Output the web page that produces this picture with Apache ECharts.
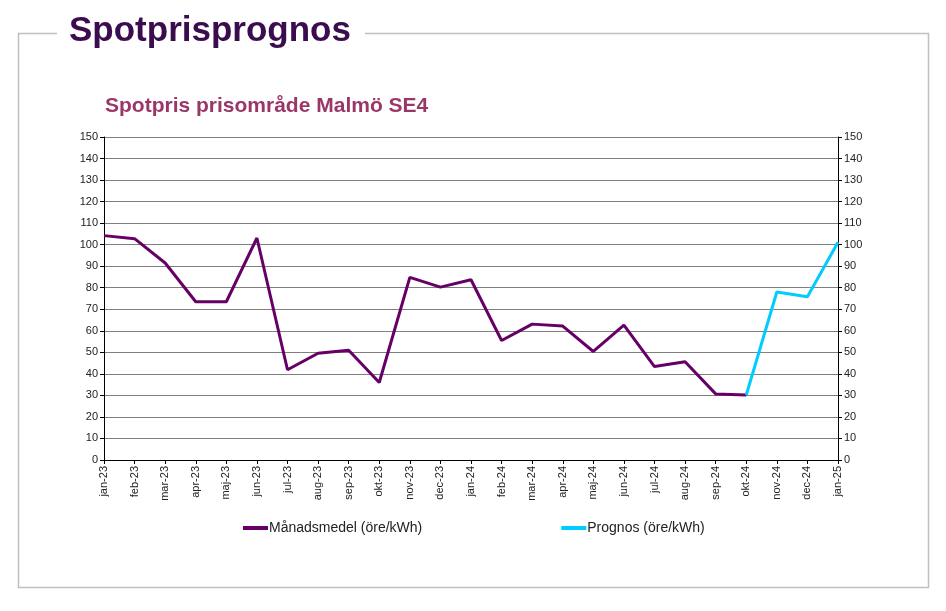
<!DOCTYPE html>
<html><head><meta charset="utf-8">
<script src="https://cdn.jsdelivr.net/npm/echarts@6/dist/echarts.min.js"></script>
<style>html,body{margin:0;padding:0;background:#fff}#c{width:946px;height:611px}</style>
</head><body><div id="c"></div>
<script>
const categories = ['jan-23','feb-23','mar-23','apr-23','maj-23','jun-23','jul-23','aug-23','sep-23','okt-23','nov-23','dec-23','jan-24','feb-24','mar-24','apr-24','maj-24','jun-24','jul-24','aug-24','sep-24','okt-24','nov-24','dec-24','jan-25'];
const manadsmedel = [104.2,102.8,91.5,73.5,73.5,103.1,41.9,49.6,51.0,36.0,84.8,80.3,83.7,55.5,63.1,62.2,50.4,62.6,43.4,45.6,30.7,30.2,null,null,null];
const prognos = [null,null,null,null,null,null,null,null,null,null,null,null,null,null,null,null,null,null,null,null,null,30.2,78.0,75.8,101.1];
const yTicks = {min:0, max:150, interval:10};

const chart = echarts.init(document.getElementById('c'), null, {renderer:'canvas'});
const yAxisCommon = {
  type:'value', min:yTicks.min, max:yTicks.max, interval:yTicks.interval,
  axisLine:{show:true, lineStyle:{color:'#000', width:1}},
  axisTick:{show:true, length:4, lineStyle:{color:'#000'}},
  axisLabel:{color:'#222', fontSize:11, fontFamily:'Liberation Sans, Arial', margin:6},
  splitLine:{show:true, lineStyle:{color:'#808080', width:1}}
};
chart.setOption({
  animation:false,
  graphic:[
    {type:'rect', shape:{x:18.5, y:33.5, width:910, height:554}, style:{fill:'none', stroke:'#c0c0c0', lineWidth:1.5}, z:0},
    {type:'rect', shape:{x:57, y:12, width:308, height:44}, style:{fill:'#fff'}, z:1},
    {type:'text', x:69, y:14, style:{text:'Spotprisprognos', fill:'#3b0d4f', font:'bold 35px "Liberation Sans", Arial', textVerticalAlign:'top'}, z:2},
    {type:'text', x:105, y:96, style:{text:'Spotpris prisområde Malmö SE4', fill:'#9b3668', font:'bold 21px "Liberation Sans", Arial', textVerticalAlign:'top'}, z:2}
  ],
  grid:{left:104, right:108, top:137, bottom:151, containLabel:false},
  legend:{
    left:238, top:516, itemGap:139, itemWidth:25, itemHeight:4,
    icon:'rect',
    textStyle:{fontSize:14, color:'#222', fontFamily:'"Liberation Sans", Arial, sans-serif', padding:[0,0,0,-4]},
    data:['Månadsmedel (öre/kWh)','Prognos (öre/kWh)']
  },
  xAxis:{
    type:'category', data:categories, boundaryGap:false,
    axisLine:{lineStyle:{color:'#000'}},
    axisTick:{show:true, alignWithLabel:true, length:4, lineStyle:{color:'#000'}},
    axisLabel:{rotate:90, color:'#222', fontSize:11, fontFamily:'Liberation Sans, Arial', margin:6, interval:0},
    splitLine:{show:false}
  },
  yAxis:[
    Object.assign({position:'left'}, yAxisCommon),
    Object.assign({position:'right'}, yAxisCommon, {splitLine:{show:false}})
  ],
  series:[
    {name:'Månadsmedel (öre/kWh)', type:'line', data:manadsmedel, yAxisIndex:0, symbol:'none', lineStyle:{color:'#660066', width:3}, itemStyle:{color:'#660066'}, connectNulls:false},
    {name:'Prognos (öre/kWh)', type:'line', data:prognos, yAxisIndex:0, symbol:'none', lineStyle:{color:'#00ccff', width:3}, itemStyle:{color:'#00ccff'}, connectNulls:false}
  ]
});
</script></body></html>
